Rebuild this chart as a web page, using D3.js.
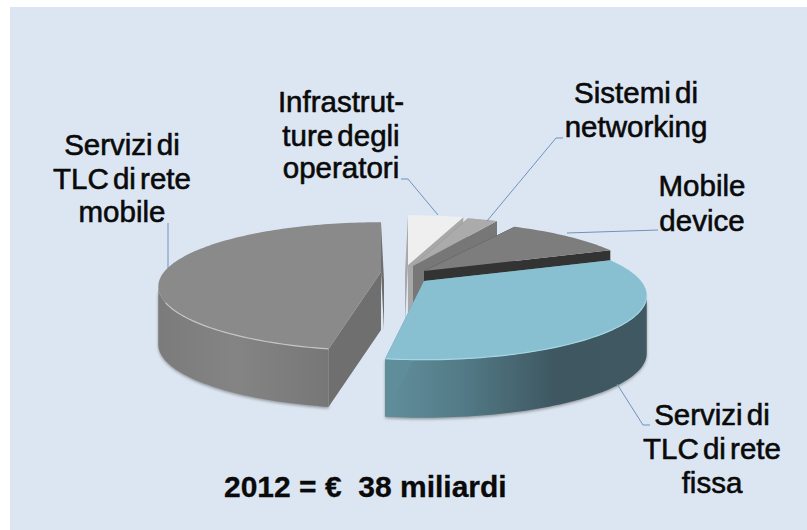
<!DOCTYPE html>
<meta charset="utf-8">
<style>
    html, body { margin: 0; background: #fff; }
    text { font-family: "Liberation Sans", Arial, sans-serif; fill: #0a0a0a; }
    .label { font-size: 29.5px; stroke: #0a0a0a; stroke-width: 0.6px; word-spacing: -4px; }
    .total { font-size: 30px; font-weight: bold; stroke: #0a0a0a; stroke-width: 0.3px; }
    .leader { fill: none; stroke: #6f92bd; stroke-width: 1px; }
</style>
<body>
    <script src="https://d3js.org/d3.v7.min.js"></script>
    <script>
        // shares (%), clockwise from 12 o'clock
        var categories = ["Infrastrutture degli operatori", "Sistemi di networking", "Mobile device", "Servizi di TLC di rete fissa", "Servizi di TLC di rete mobile"];
        var values = [5, 3, 11, 33.7, 47.3];
        var labelLines = [
            ["Infrastrut-", "ture degli", "operatori"],
            ["Sistemi di", "networking"],
            ["Mobile", "device"],
            ["Servizi di", "TLC di rete", "fissa"],
            ["Servizi di", "TLC di rete", "mobile"]
        ];
        var total = "2012 = €  38 miliardi";

        var width = 807, height = 530;
        var rx = 217, ry = 61, persp = 0.225, depth = 58;

        // per slice look: apex position, colours, small gap trimmed off the slice sides (radians)
        var look = [
            { x: 408, y: 265, top: "#efefef", wall: "#b0b0b0", cut: "#a8a8a8", shift0: -3, shift1: 0, gap0: 0, gap1: 0 },
            { x: 413, y: 266, top: "#ababab", wall: "#777", cut: "#777", shift0: 0, shift1: 0, gap0: 0, gap1: 0.02 },
            { x: 424, y: 271, top: "#7d7d7d", wall: "#555", cut: "#333", shift0: 0, shift1: 0, gap0: 0.02, gap1: 0 },
            { x: 424, y: 281, top: "#88c0d2", wall: "url(#wallTeal)", cut: "#5f8d9a", shift0: 0, shift1: 0, gap0: 0, gap1: 0.03, rim: "#a5d6e4" },
            { x: 381, y: 272, top: "#8a8a8a", wall: "url(#wallGray)", cut: "#6f6f6f", shift0: 0, shift1: 3, gap0: 0.02, gap1: 0, rim: "#c4c4c4" }
        ];
        var labelPos = [
            { x: 341, dy: [112, 146, 178] },
            { x: 636, dy: [103, 137] },
            { x: 702, dy: [196, 231] },
            { x: 712, dy: [425, 459, 493] },
            { x: 122, dy: [155, 189, 222] }
        ];
        var leaders = [
            [[438, 215], [408, 179], [401, 179]],
            [[487, 221], [556, 138], [563, 138]],
            [[567, 233], [658, 230]],
            [[617, 384], [643, 425], [650, 425]],
            [[168, 268], [168, 223]]
        ];

        var svg = d3.select("body").append("svg")
            .attr("width", width)
            .attr("height", height)
            .style("display", "block");

        var defs = svg.append("defs");

        function hgrad(id, x1, x2, stops) {
            var g = defs.append("linearGradient").attr("id", id)
                .attr("gradientUnits", "userSpaceOnUse")
                .attr("x1", x1).attr("x2", x2).attr("y1", 0).attr("y2", 0);
            stops.forEach(function(s) {
                g.append("stop").attr("offset", s[0]).attr("stop-color", s[1]);
            });
        }
        hgrad("wallTeal", 385, 648, [[0, "#618e9b"], [0.3, "#527a86"], [0.65, "#3e5761"], [1, "#3f5862"]]);
        hgrad("wallGray", 158, 381, [[0, "#7b7b7b"], [0.35, "#848484"], [0.7, "#797979"], [1, "#6d6d6d"]]);
        defs.append("filter").attr("id", "soft")
            .attr("x", "-5%").attr("y", "-5%").attr("width", "110%").attr("height", "115%")
            .append("feGaussianBlur").attr("stdDeviation", 1.6);

        // page panel, runs off the right and bottom edges
        svg.append("rect")
            .attr("x", 10).attr("y", 7)
            .attr("width", width - 10).attr("height", height - 7)
            .attr("fill", "#dce6f2");

        var pie = d3.pie().sort(null).startAngle(0).endAngle(2 * Math.PI);
        var arcs = pie(values);

        var line = d3.line();

        // disc point seen in perspective: the far side shrinks, the near side grows
        function pt(l, a, z, sh) {
            var u = Math.sin(a), v = Math.cos(a);
            var s = 1 / (1 + persp * v);
            return [l.x + rx * u * s + (sh || 0), l.y - ry * v * s + z];
        }

        function rim(l, a0, a1, z) {
            var n = Math.max(2, Math.ceil((a1 - a0) * 40));
            return d3.range(n + 1).map(function(i) {
                return pt(l, a0 + (a1 - a0) * i / n, z);
            });
        }

        // the silhouette of the disc turns at cos(a) = -persp
        var turn = Math.acos(-persp);

        // outer wall only where the rim faces the viewer
        function wallPath(l, a0, a1) {
            var from = Math.max(a0, turn), to = Math.min(a1, 2 * Math.PI - turn);
            if (to <= from) return null;
            return line(rim(l, from, to, 0).concat(rim(l, from, to, depth).reverse())) + "Z";
        }

        function cutPath(l, a, sh) {
            return line([
                [l.x, l.y],
                pt(l, a, 0),
                pt(l, a, depth, sh),
                [l.x + sh, l.y + depth]
            ]) + "Z";
        }

        function topPath(l, a0, a1) {
            return line([[l.x, l.y]].concat(rim(l, a0, a1, 0))) + "Z";
        }

        // painter's order: big grey slice, small back slices, then the blue one in front
        var order = [4, 0, 1, 2, 3];
        var slices = svg.selectAll("g.slice")
            .data(order.map(function(i) { return { a: arcs[i], l: look[i] }; }))
            .enter().append("g")
            .attr("class", "slice");

        slices.each(function(d) {
            var g = d3.select(this), l = d.l;
            var a0 = d.a.startAngle + l.gap0, a1 = d.a.endAngle - l.gap1;
            var w = wallPath(l, a0, a1);
            if (w) {
                g.append("path").attr("d", w)
                    .attr("transform", "translate(0,1.5)")
                    .attr("fill", "#555").attr("opacity", 0.55)
                    .attr("filter", "url(#soft)");
                g.append("path").attr("d", w).attr("fill", l.wall);
            }
            g.append("path").attr("d", cutPath(l, a0, l.shift0)).attr("fill", l.cut);
            g.append("path").attr("d", cutPath(l, a1, l.shift1)).attr("fill", l.cut);
            g.append("path").attr("d", topPath(l, a0, a1)).attr("fill", l.top);
            if (l.rim) {
                g.append("path")
                    .attr("d", line(rim(l, Math.max(a0, turn), Math.min(a1, Math.PI * 1.35), 0)))
                    .attr("fill", "none").attr("stroke", l.rim).attr("stroke-width", 1.2);
            }
        });

        svg.selectAll("path.leader")
            .data(leaders)
            .enter().append("path")
            .attr("class", "leader")
            .attr("d", function(d) { return line(d); });

        svg.selectAll("text.label")
            .data(categories)
            .enter().append("text")
            .attr("class", "label")
            .attr("text-anchor", "middle")
            .each(function(d, i) {
                d3.select(this).selectAll("tspan")
                    .data(labelLines[i])
                    .enter().append("tspan")
                    .attr("x", labelPos[i].x)
                    .attr("y", function(t, j) { return labelPos[i].dy[j]; })
                    .text(function(t) { return t; });
            });

        svg.append("text")
            .attr("class", "total")
            .attr("x", 224).attr("y", 497)
            .style("white-space", "pre")
            .text(total);
    </script>
</body>
